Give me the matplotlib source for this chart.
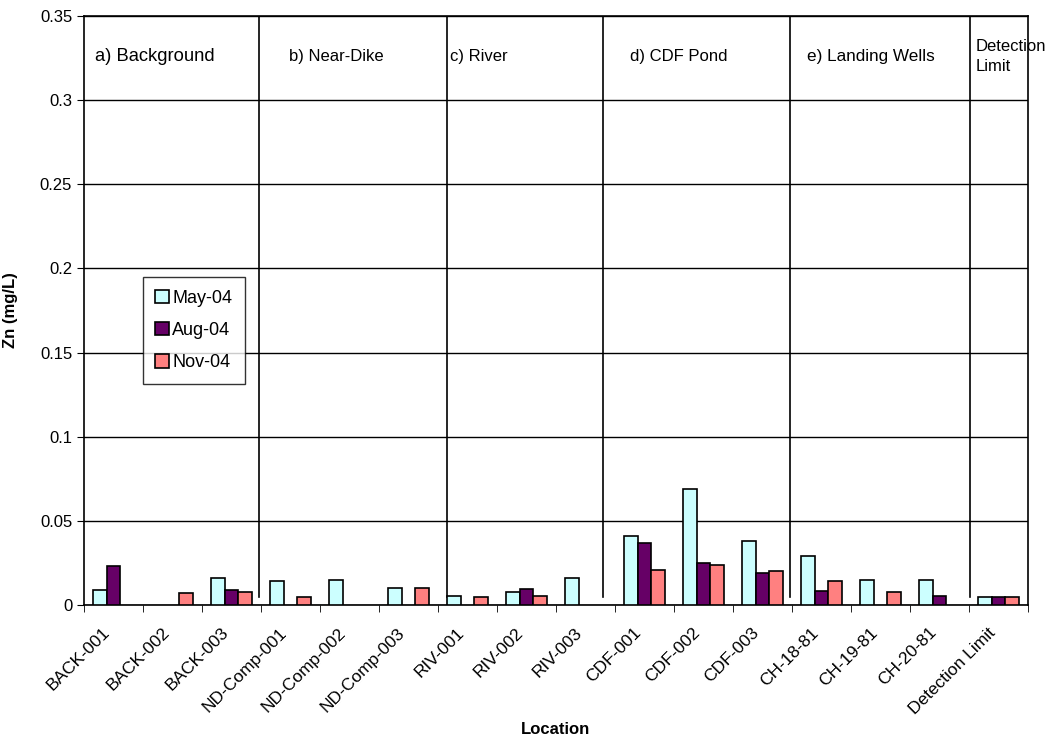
import numpy as np
import matplotlib
matplotlib.use("Agg")
import matplotlib.pyplot as plt
import matplotlib.transforms as mtransforms

plt.rcParams['font.family'] = ['Liberation Sans', 'DejaVu Sans']

locations = ["BACK-001", "BACK-002", "BACK-003", "ND-Comp-001", "ND-Comp-002",
             "ND-Comp-003", "RIV-001", "RIV-002", "RIV-003", "CDF-001", "CDF-002",
             "CDF-003", "CH-18-81", "CH-19-81", "CH-20-81", "Detection Limit"]
nan = np.nan
may04 = [0.009, nan, 0.016, 0.014, 0.015, 0.010, 0.0055, 0.008, 0.016,
         0.041, 0.069, 0.038, 0.029, 0.015, 0.015, 0.005]
aug04 = [0.023, nan, 0.009, nan, nan, nan, nan, 0.0095, nan,
         0.037, 0.025, 0.019, 0.0085, nan, 0.0055, 0.005]
nov04 = [nan, 0.007, 0.0075, 0.005, nan, 0.010, 0.005, 0.0052, nan,
         0.021, 0.024, 0.020, 0.014, 0.008, nan, 0.005]

sections = ["a) Background", "b) Near-Dike", "c) River", "d) CDF Pond",
            "e) Landing Wells", "Detection\nLimit"]
section_x = [-0.31, 2.98, 5.70, 8.75, 11.75, 14.62]
section_size = [13.2, 12, 12, 12, 12.3, 12]
dividers = [2.466, 5.653, 8.30, 11.466, 14.517]

fig = plt.figure(figsize=(10.57, 7.42), dpi=100)
ax = fig.add_axes([84/1057, 1-605/742, 944/1057, 589/742])

x = np.arange(len(locations))
w = 0.227
ax.bar(x - w, may04, w, color='#CCFFFF', edgecolor='black', linewidth=1.2, label='May-04', zorder=3)
ax.bar(x, aug04, w, color='#660066', edgecolor='black', linewidth=1.2, label='Aug-04', zorder=3)
ax.bar(x + w, nov04, w, color='#FF8080', edgecolor='black', linewidth=1.2, label='Nov-04', zorder=3)

ax.set_xlim(-0.5, len(locations) - 0.5)
ax.set_ylim(0, 0.35)
ax.set_yticks(np.arange(0, 0.351, 0.05))
ax.set_yticklabels(['0', '0.05', '0.1', '0.15', '0.2', '0.25', '0.3', '0.35'], fontsize=12)
ax.yaxis.grid(True, color='black', linewidth=1, zorder=0)
ax.set_axisbelow(True)

ax.set_xticks(x)
ax.set_xticklabels(locations, rotation=45, ha='right', rotation_mode='anchor', fontsize=12.5)
ax.tick_params(axis='x', which='major', length=0, pad=10)
shift = mtransforms.ScaledTranslation(-11/100, -6/100, fig.dpi_scale_trans)
for lab in ax.get_xticklabels():
    lab.set_transform(lab.get_transform() + shift)
ax.set_xticks(np.arange(-0.5, len(locations)), minor=True)
ax.tick_params(axis='x', which='minor', length=5, direction='out', color='black')
ax.tick_params(axis='y', length=5, direction='out', color='black')

for s in ax.spines.values():
    s.set_color('black')
    s.set_linewidth(1.2)

for d in dividers:
    ax.plot([d, d], [0.0048, 0.35], color='black', linewidth=1.2, zorder=2)

for name, sx, fs in zip(sections, section_x, section_size):
    ax.text(sx, 0.3258, name, ha='left', va='center', fontsize=fs,
            linespacing=1.4, clip_on=False)

ax.set_ylabel('Zn (mg/L)', fontsize=12, fontweight='bold')
ax.yaxis.set_label_coords(-66/944, 0.5)
ax.set_xlabel('Location', fontsize=12, fontweight='bold', va='center')
ax.xaxis.set_label_coords(0.5, -125/589)

leg = ax.legend(loc='upper left', bbox_to_anchor=(0.062, 0.557), borderaxespad=0,
                fontsize=13, handlelength=0.75, handleheight=0.75, handletextpad=0.2,
                labelspacing=0.85, fancybox=False, frameon=True, borderpad=0.7)
leg.get_frame().set_edgecolor('black')
leg.get_frame().set_linewidth(1)
leg.set_zorder(5)

fig.savefig('out.png', dpi=100)
